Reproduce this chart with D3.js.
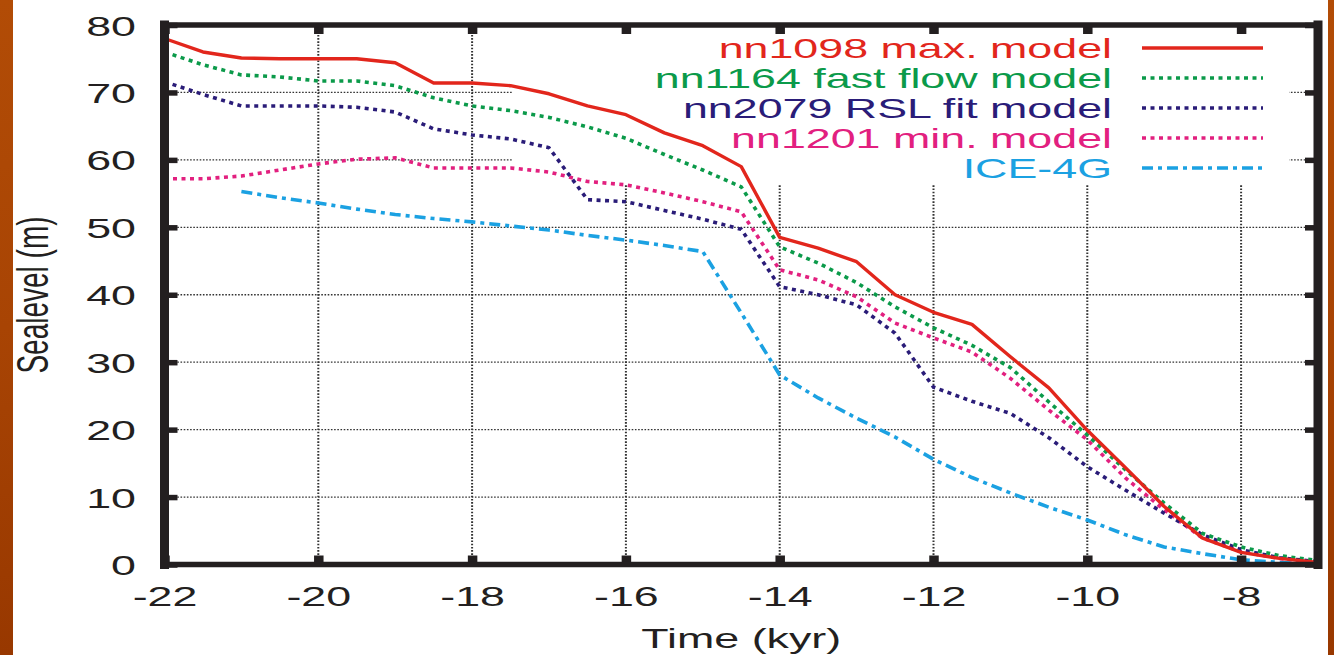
<!DOCTYPE html>
<html>
<head>
<meta charset="utf-8">
<script src="https://cdn.jsdelivr.net/npm/d3@7"></script>
<style>
  body { margin: 0; background: #fff; }
  svg { display: block; font-family: "Liberation Sans", Arial, sans-serif; }
</style>
</head>
<body>
<div id="chart"></div>
<script>
// time axis (kyr) and sea level (m) for each run
var kyr = [-22, -21.5, -21, -20.5, -20, -19.5, -19, -18.5, -18, -17.5, -17, -16.5, -16, -15.5, -15,
           -14.5, -14, -13.5, -13, -12.5, -12, -11.5, -11, -10.5, -10, -9.5, -9, -8.5, -8, -7.5, -7];

var nn1098 = [78.0, 76.0, 75.1, 75.0, 75.0, 75.0, 74.4, 71.4, 71.4, 71.0, 69.8, 68.0, 66.7, 64.0, 62.1,
              59.0, 48.5, 46.9, 44.9, 40.0, 37.4, 35.6, 30.8, 26.2, 19.9, 14.3, 8.6, 3.9, 1.8, 0.9, 0.3];
var nn1164 = [76.0, 74.1, 72.6, 72.3, 71.7, 71.7, 71.0, 69.2, 68.0, 67.3, 66.3, 64.9, 63.2, 60.8, 58.5,
              56.0, 47.1, 44.7, 41.8, 38.2, 35.1, 32.5, 29.2, 24.1, 19.2, 14.0, 9.1, 4.6, 2.6, 1.3, 0.6];
var nn2079 = [71.6, 69.7, 68.0, 68.0, 68.0, 67.8, 67.1, 64.6, 63.7, 63.1, 61.8, 54.1, 53.8, 52.5, 51.2,
              49.7, 41.2, 40.0, 38.5, 34.3, 26.3, 24.2, 22.4, 18.8, 14.5, 11.0, 7.6, 4.4, 2.2, 1.0, 0.4];
var nn1201 = [57.2, 57.2, 57.6, 58.5, 59.4, 60.1, 60.3, 58.8, 58.8, 58.8, 58.2, 56.8, 56.3, 55.1, 53.8,
              52.3, 43.7, 42.2, 39.7, 35.8, 33.6, 31.5, 27.6, 22.9, 18.5, 12.8, 8.1, 3.9, 1.9, 0.9, 0.3];
var ice4g  = [null, null, 55.3, 54.4, 53.6, 52.7, 51.9, 51.3, 50.8, 50.2, 49.6, 48.8, 48.1, 47.3, 46.4,
              37.3, 28.1, 24.7, 21.7, 18.9, 15.6, 12.9, 10.6, 8.5, 6.6, 4.4, 2.6, 1.6, 0.7, 0.3, 0.0];

var seriesNames = ["nn1098 max. model", "nn1164 fast flow model", "nn2079 RSL fit model", "nn1201 min. model", "ICE-4G"];
var seriesValues = [nn1098, nn1164, nn2079, nn1201, ice4g];
var seriesColors = ["#e2261c", "#0b9a4a", "#2a1c78", "#e2207f", "#1ba1e2"];
var seriesDash = [null, "4,4.5", "4,4.5", "4,4.5", "11,5,4,5"];

var xTicks = [-22, -20, -18, -16, -14, -12, -10, -8];
var yTicks = [0, 10, 20, 30, 40, 50, 60, 70, 80];

var W = 1334, H = 655;
var stretch = 1.6;   // the slide figure is squeezed wide, so the text is too
var ink = "#231f20";

var svg = d3.select("#chart").append("svg")
    .attr("width", W)
    .attr("height", H);

// orange slide edges
var defs = svg.append("defs");
var grad = defs.append("linearGradient").attr("id", "slide")
    .attr("x1", 0).attr("y1", 0).attr("x2", 0).attr("y2", 1);
grad.append("stop").attr("offset", "0%").attr("stop-color", "#b24c06");
grad.append("stop").attr("offset", "50%").attr("stop-color", "#a84404");
grad.append("stop").attr("offset", "100%").attr("stop-color", "#983800");
svg.append("rect").attr("x", 0).attr("y", 0).attr("width", 13).attr("height", H).attr("fill", "url(#slide)");
svg.append("rect").attr("x", 1328).attr("y", 0).attr("width", W - 1328).attr("height", H).attr("fill", "url(#slide)");

var x = d3.scaleLinear().domain([-22, -7]).range([164.5, 1318]);
var y = d3.scaleLinear().domain([0, 80]).range([564.5, 25]);

// grid (vertical strokes come out wider, like everything horizontal in the slide)
var grid = svg.append("g").attr("class", "grid")
    .attr("stroke", "#333")
    .attr("stroke-dasharray", "1.6,1.6");

grid.selectAll(".vgrid")
    .data(xTicks.filter(function (d) { return d > -22; }))
    .enter().append("line")
    .attr("stroke-width", 2)
    .attr("x1", function (d) { return x(d); })
    .attr("x2", function (d) { return x(d); })
    .attr("y1", y(0))
    .attr("y2", y(80));

grid.selectAll(".hgrid")
    .data(yTicks.filter(function (d) { return d > 0 && d < 80; }))
    .enter().append("line")
    .attr("stroke-width", 1.3)
    .attr("x1", x(-22))
    .attr("x2", x(-7))
    .attr("y1", function (d) { return y(d); })
    .attr("y2", function (d) { return y(d); });

// the key keeps the grid out of its area
svg.append("rect")
    .attr("x", 513).attr("y", 28)
    .attr("width", 1289 - 513).attr("height", 185 - 28)
    .attr("fill", "#fff");

// series
var line = d3.line()
    .defined(function (d) { return d[1] != null; })
    .x(function (d) { return x(d[0]); })
    .y(function (d) { return y(d[1]); });

var order = [4, 3, 2, 1, 0];
order.forEach(function (i) {
    var pts = kyr.map(function (k, j) { return [k, seriesValues[i][j]]; });
    svg.append("path")
        .datum(pts)
        .attr("fill", "none")
        .attr("stroke", seriesColors[i])
        .attr("stroke-width", i == 0 ? 3.4 : 3.6)
        .attr("stroke-linejoin", "round")
        .attr("stroke-dasharray", seriesDash[i])
        .attr("d", line);
});

// axes: inward ticks on all four sides
function styleAxis(w) {
    return function (g) {
        g.select(".domain").remove();
        g.selectAll(".tick line").attr("stroke", ink).attr("stroke-width", w);
    };
}

svg.append("g")
    .attr("transform", "translate(0," + y(0) + ")")
    .call(d3.axisBottom(x).tickValues(xTicks).tickSize(-9).tickFormat(function (d) { return String(d); }))
    .call(styleAxis(9.5))
    .call(function (g) {
        g.selectAll(".tick text")
            .attr("y", null).attr("dy", null)
            .attr("transform", "translate(0,41) scale(" + stretch + ",1)")
            .attr("fill", ink)
            .style("font-size", "28px");
    });

svg.append("g")
    .attr("transform", "translate(0," + y(80) + ")")
    .call(d3.axisTop(x).tickValues(xTicks).tickSize(-9).tickFormat(""))
    .call(styleAxis(9.5));

svg.append("g")
    .attr("transform", "translate(" + x(-22) + ",0)")
    .call(d3.axisLeft(y).tickValues(yTicks).tickSize(-13).tickFormat(function (d) { return String(d); }))
    .call(styleAxis(5.5))
    .call(function (g) {
        g.selectAll(".tick text")
            .attr("x", null).attr("dy", null)
            .attr("text-anchor", "end")
            .attr("transform", "translate(-28.5,10) scale(" + stretch + ",1)")
            .attr("fill", ink)
            .style("font-size", "28px");
    });

svg.append("g")
    .attr("transform", "translate(" + x(-7) + ",0)")
    .call(d3.axisRight(y).tickValues(yTicks).tickSize(-13).tickFormat(""))
    .call(styleAxis(5.5));

// frame: the sides are wider than top and bottom
var frame = svg.append("g").attr("stroke", ink).attr("stroke-linecap", "square");
frame.append("line")
    .attr("x1", x(-22)).attr("x2", x(-7)).attr("y1", y(80)).attr("y2", y(80))
    .attr("stroke-width", 5.5);
frame.append("line")
    .attr("x1", x(-22)).attr("x2", x(-7)).attr("y1", y(0)).attr("y2", y(0))
    .attr("stroke-width", 5.5);
frame.append("line")
    .attr("x1", x(-22)).attr("x2", x(-22)).attr("y1", y(80)).attr("y2", y(0))
    .attr("stroke-width", 9);
frame.append("line")
    .attr("x1", x(-7)).attr("x2", x(-7)).attr("y1", y(80)).attr("y2", y(0))
    .attr("stroke-width", 9);

// axis titles
svg.append("text")
    .attr("transform", "translate(" + (x(-22) + x(-7)) / 2 + ",648) scale(" + stretch + ",1)")
    .attr("text-anchor", "middle")
    .attr("fill", ink)
    .style("font-size", "28px")
    .text("Time (kyr)");

svg.append("text")
    .attr("transform", "translate(48,295) scale(" + stretch + ",1) rotate(-90)")
    .attr("text-anchor", "middle")
    .attr("fill", ink)
    .style("font-size", "28px")
    .text("Sealevel (m)");

// key
var key = svg.append("g").attr("class", "key");
seriesNames.forEach(function (name, i) {
    var base = 58 + i * 30;
    key.append("text")
        .attr("transform", "translate(1112," + base + ") scale(" + stretch + ",1)")
        .attr("text-anchor", "end")
        .attr("fill", seriesColors[i])
        .style("font-size", "28px")
        .text(name);
    key.append("line")
        .attr("x1", 1142).attr("x2", 1263)
        .attr("y1", base - 10).attr("y2", base - 10)
        .attr("stroke", seriesColors[i])
        .attr("stroke-width", 3.6)
        .attr("stroke-dasharray", seriesDash[i]);
});
</script>
</body>
</html>
